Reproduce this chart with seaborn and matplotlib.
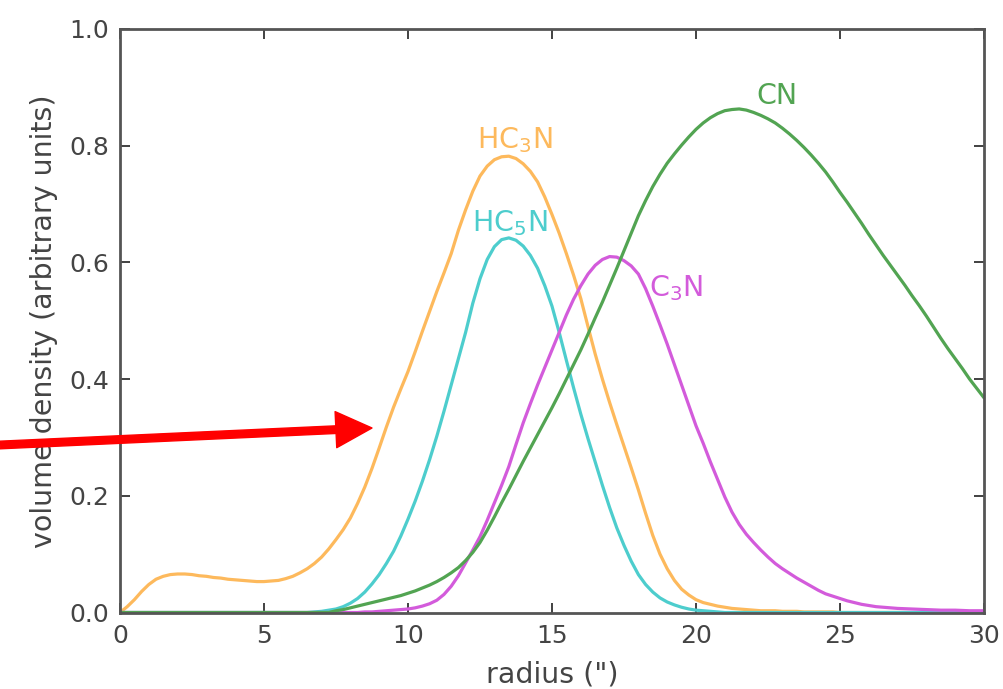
import numpy as np
import pandas as pd
import matplotlib
matplotlib.use("Agg")
import matplotlib.pyplot as plt
import seaborn as sns
from matplotlib.patches import FancyArrowPatch

# ---- data (radius 0..30 in steps of 0.25) ----
radius = [i * 0.25 for i in range(121)]

hc3n = [0.000, 0.010, 0.022, 0.036, 0.048, 0.057, 0.062, 0.065,
        0.066, 0.066, 0.065, 0.063, 0.062, 0.060, 0.059, 0.057,
        0.056, 0.055, 0.054, 0.053, 0.053, 0.054, 0.055, 0.058,
        0.062, 0.068, 0.075, 0.084, 0.095, 0.109, 0.125, 0.142,
        0.162, 0.187, 0.215, 0.247, 0.282, 0.318, 0.352, 0.383,
        0.413, 0.447, 0.482, 0.516, 0.550, 0.582, 0.615, 0.655,
        0.690, 0.722, 0.748, 0.765, 0.776, 0.781, 0.782, 0.778,
        0.769, 0.756, 0.738, 0.712, 0.682, 0.650, 0.615, 0.578,
        0.538, 0.490, 0.443, 0.400, 0.360, 0.322, 0.285, 0.248,
        0.210, 0.170, 0.132, 0.100, 0.075, 0.055, 0.040, 0.030,
        0.022, 0.017, 0.014, 0.011, 0.009, 0.007, 0.006, 0.005,
        0.004, 0.003, 0.003, 0.003, 0.002, 0.002, 0.002, 0.001,
        0.001, 0.001, 0.001, 0.001, 0.000, 0.000, 0.000, 0.000,
        0.000, 0.000, 0.000, 0.000, 0.000, 0.000, 0.000, 0.000,
        0.000, 0.000, 0.000, 0.000, 0.000, 0.000, 0.000, 0.000,
        0.000]

hc5n = [0.000, 0.000, 0.000, 0.000, 0.000, 0.000, 0.000, 0.000,
        0.000, 0.000, 0.000, 0.000, 0.000, 0.000, 0.000, 0.000,
        0.000, 0.000, 0.000, 0.000, 0.000, 0.000, 0.000, 0.000,
        0.000, 0.000, 0.000, 0.001, 0.002, 0.004, 0.006, 0.010,
        0.016, 0.024, 0.035, 0.049, 0.065, 0.084, 0.105, 0.131,
        0.160, 0.191, 0.225, 0.262, 0.302, 0.345, 0.390, 0.435,
        0.480, 0.530, 0.572, 0.605, 0.627, 0.639, 0.642, 0.638,
        0.628, 0.612, 0.590, 0.560, 0.525, 0.480, 0.432, 0.385,
        0.340, 0.298, 0.258, 0.218, 0.180, 0.145, 0.115, 0.088,
        0.065, 0.048, 0.035, 0.025, 0.018, 0.013, 0.009, 0.006,
        0.004, 0.003, 0.002, 0.001, 0.000, 0.000, 0.000, 0.000,
        0.000, 0.000, 0.000, 0.000, 0.000, 0.000, 0.000, 0.000,
        0.000, 0.000, 0.000, 0.000, 0.000, 0.000, 0.000, 0.000,
        0.000, 0.000, 0.000, 0.000, 0.000, 0.000, 0.000, 0.000,
        0.000, 0.000, 0.000, 0.000, 0.000, 0.000, 0.000, 0.000,
        0.000]

c3n = [0.000, 0.000, 0.000, 0.000, 0.000, 0.000, 0.000, 0.000,
       0.000, 0.000, 0.000, 0.000, 0.000, 0.000, 0.000, 0.000,
       0.000, 0.000, 0.000, 0.000, 0.000, 0.000, 0.000, 0.000,
       0.000, 0.000, 0.000, 0.000, 0.000, 0.000, 0.000, 0.000,
       0.000, 0.000, 0.001, 0.001, 0.002, 0.003, 0.004, 0.005,
       0.006, 0.008, 0.011, 0.015, 0.021, 0.031, 0.045, 0.063,
       0.085, 0.107, 0.130, 0.158, 0.188, 0.218, 0.250, 0.288,
       0.325, 0.358, 0.390, 0.420, 0.450, 0.480, 0.510, 0.537,
       0.560, 0.580, 0.595, 0.605, 0.610, 0.609, 0.603, 0.594,
       0.580, 0.555, 0.525, 0.493, 0.460, 0.425, 0.390, 0.355,
       0.320, 0.290, 0.258, 0.228, 0.198, 0.172, 0.151, 0.134,
       0.120, 0.107, 0.095, 0.084, 0.075, 0.067, 0.059, 0.052,
       0.045, 0.038, 0.032, 0.028, 0.024, 0.020, 0.017, 0.014,
       0.012, 0.010, 0.009, 0.008, 0.007, 0.0065, 0.006, 0.0055,
       0.005, 0.0045, 0.004, 0.004, 0.004, 0.0035, 0.003, 0.003,
       0.003]

cn = [0.000, 0.000, 0.000, 0.000, 0.000, 0.000, 0.000, 0.000,
      0.000, 0.000, 0.000, 0.000, 0.000, 0.000, 0.000, 0.000,
      0.000, 0.000, 0.000, 0.000, 0.000, 0.000, 0.000, 0.000,
      0.000, 0.000, 0.000, 0.000, 0.000, 0.000, 0.003, 0.005,
      0.008, 0.011, 0.014, 0.017, 0.020, 0.023, 0.026, 0.029,
      0.033, 0.037, 0.042, 0.047, 0.053, 0.060, 0.068, 0.077,
      0.089, 0.103, 0.120, 0.141, 0.164, 0.188, 0.211, 0.235,
      0.259, 0.282, 0.305, 0.328, 0.351, 0.375, 0.400, 0.425,
      0.450, 0.477, 0.505, 0.532, 0.561, 0.590, 0.620, 0.650,
      0.680, 0.706, 0.730, 0.751, 0.770, 0.786, 0.801, 0.815,
      0.828, 0.839, 0.848, 0.855, 0.860, 0.862, 0.863, 0.861,
      0.857, 0.852, 0.846, 0.839, 0.830, 0.820, 0.809, 0.797,
      0.784, 0.770, 0.755, 0.738, 0.720, 0.703, 0.685, 0.667,
      0.648, 0.630, 0.612, 0.595, 0.578, 0.561, 0.543, 0.526,
      0.508, 0.489, 0.470, 0.452, 0.435, 0.418, 0.400, 0.384,
      0.368]

species = ["HC3N", "HC5N", "C3N", "CN"]
labels = {"HC3N": r"HC$_3$N", "HC5N": r"HC$_5$N", "C3N": r"C$_3$N", "CN": "CN"}
label_pos = {"HC3N": (13.7, 0.81), "HC5N": (13.55, 0.668), "C3N": (19.3, 0.556), "CN": (22.8, 0.886)}
colors = {"HC3N": "#FDB95C", "HC5N": "#4DCDCD", "C3N": "#D35BDB", "CN": "#52A452"}

xticks = [0, 5, 10, 15, 20, 25, 30]
yticks = [0.0, 0.2, 0.4, 0.6, 0.8, 1.0]

df = pd.concat([
    pd.DataFrame({"radius": radius, "density": vals, "species": name})
    for name, vals in zip(species, [hc3n, hc5n, c3n, cn])
], ignore_index=True)

sns.set_style("ticks")
plt.rcParams["font.family"] = ["DejaVu Sans"]

fig = plt.figure(figsize=(10.04, 6.89), dpi=100)
ax = fig.add_axes([120 / 1004, 1 - 612.5 / 689, (984 - 120) / 1004, (612.5 - 29) / 689])

sns.lineplot(data=df, x="radius", y="density", hue="species", hue_order=species,
             palette=colors, linewidth=2.3, ax=ax, legend=False, sort=True)
for ln in ax.get_lines():
    ln.set_solid_joinstyle("round")

for name in species:
    x, y = label_pos[name]
    ax.text(x, y, labels[name], color=colors[name], fontsize=20.5, ha="center", va="center")

ax.set_xlim(0, 30)
ax.set_ylim(0, 1.0)
ax.set_xticks(xticks)
ax.set_yticks(yticks)
ax.set_yticklabels([f"{v:.1f}" for v in yticks])
ax.tick_params(direction="in", top=True, right=True, length=7, width=1.3,
               labelsize=18, labelcolor="#444444", color="#333333", pad=8)
for s in ax.spines.values():
    s.set_color("#555555")
    s.set_linewidth(2.0)
ax.set_xlabel("radius (\")", fontsize=20.5, color="#444444", labelpad=9)
ax.set_ylabel("volume density (arbitrary units)", fontsize=20.5, color="#444444", labelpad=8)

arrow = FancyArrowPatch((0 / 1004, 1 - 445 / 689), (372 / 1004, 1 - 428 / 689),
                        transform=fig.transFigure,
                        arrowstyle="simple,head_length=26,head_width=26,tail_width=5.5",
                        mutation_scale=1, color="#FF0000", shrinkA=0, shrinkB=0,
                        clip_on=False, zorder=10)
fig.patches.append(arrow)

fig.savefig("out.png", dpi=100)
